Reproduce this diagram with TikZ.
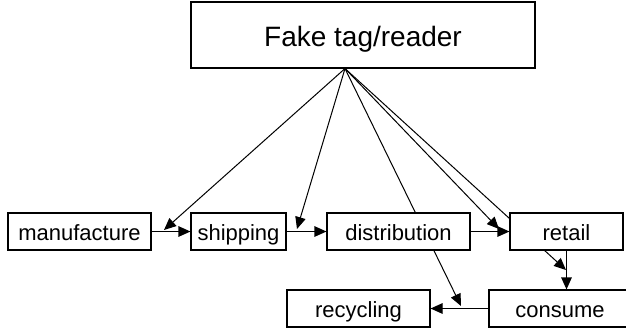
\documentclass[tikz,border=0pt]{standalone}
\usepackage{fontspec}
\setmainfont{Liberation Sans}
\usetikzlibrary{arrows.meta,backgrounds}
\begin{document}
\begin{tikzpicture}[x=1pt,y=-1pt,
  box/.style={draw=black,fill=white,line width=1.1pt,inner sep=0pt,minimum height=37pt,text height=18.5pt,text depth=0pt,font=\fontsize{22}{26}\selectfont},
  link/.style={line width=1.1pt,-{Triangle[length=12pt,width=10.5pt]}},
  attack/.style={line width=1pt,-{Triangle[length=12pt,width=10.5pt]}}]
\useasboundingbox (0,0) rectangle (626,333);
\clip (0,0) rectangle (626,333);
\node[box,minimum width=344pt,minimum height=66pt,text height=23pt,font=\fontsize{28}{32}\selectfont] (fake) at (363,35) {Fake tag/reader};
\node[box,minimum width=143pt] (manu) at (79.5,231.5) {manufacture};
\node[box,minimum width=95pt] (ship) at (238.5,231.5) {shipping};
\node[box,minimum width=143pt] (dist) at (398.5,231.5) {distribution};
\node[box,minimum width=113pt] (retail) at (566.5,231.5) {retail};
\node[box,minimum width=143pt] (recy) at (358.5,308.5) {recycling};
\node[box,minimum width=142pt] (cons) at (560,308.5) {consume};
\draw[link] (manu.east) -- (ship.west);
\draw[link] (ship.east) -- (dist.west);
\draw[link] (dist.east) -- (retail.west);
\draw[link] (retail.south) -- (retail.south |- cons.north);
\draw[link] (cons.west) -- (recy.east);
\coordinate (src) at ([xshift=-18pt]fake.south);
\coordinate (t1) at (164,230);
\coordinate (t2) at (297,229);
\coordinate (t3) at (461,306);
\coordinate (t4) at (499,229);
\coordinate (t5) at (566,270);
\begin{scope}[on background layer]
\draw[attack] (src) -- (t1);
\draw[attack] (src) -- (t2);
\draw[attack] (src) -- (t3);
\draw[attack] (src) -- (t4);
\draw[attack] (src) -- (t5);
\end{scope}
\end{tikzpicture}
\end{document}
